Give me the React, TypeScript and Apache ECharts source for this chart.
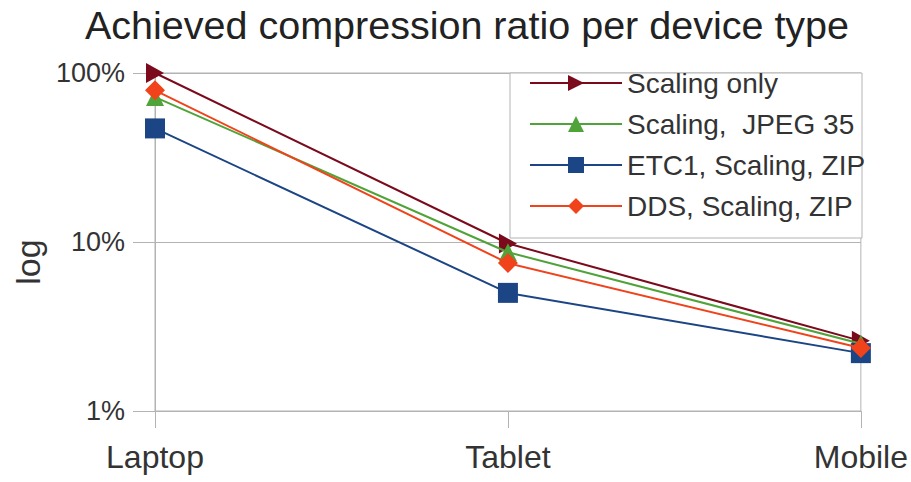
import React, { useEffect, useRef } from "react";
import * as echarts from "echarts";

const categories = ["Laptop", "Tablet", "Mobile"];
const seriesNames = ["Scaling only", "Scaling,  JPEG 35", "ETC1, Scaling, ZIP", "DDS, Scaling, ZIP"];
const scalingOnly = [100, 9.8, 2.6];
const jpeg35 = [72, 8.7, 2.5];
const etc1Zip = [47, 5.0, 2.2];
const ddsZip = [79, 7.5, 2.36];
const colors = ["#7a0a1c", "#4fa339", "#1b4584", "#f0431b"];
const symbols = ["triangle", "triangle", "rect", "diamond"];
const symbolSizes = [[20, 18], 18, 20, 20];
const rotates = [-90, 0, 0, 0];

export default function App() {
  const ref = useRef<HTMLDivElement>(null);
  useEffect(() => {
    if (!ref.current) return;
    const chart = echarts.init(ref.current, null, { renderer: "svg" });
    const data = [scalingOnly, jpeg35, etc1Zip, ddsZip];
    const font = "'Liberation Sans', Arial, sans-serif";
    chart.setOption({
      animation: false,
      textStyle: { fontFamily: font },
      title: {
        text: "Achieved compression ratio per device type",
        left: 80,
        top: 0,
        textStyle: { fontSize: 39.5, fontWeight: "normal", color: "#222", fontFamily: font },
      },
      grid: {
        left: 155,
        right: 50,
        top: 73,
        bottom: 71,
        show: true,
        borderColor: "#b3b3b3",
        borderWidth: 1,
      },
      graphic: [
        {
          type: "rect",
          z: 3,
          shape: { x: 510, y: 73, width: 352, height: 165 },
          style: { fill: "#fff", stroke: "#b3b3b3", lineWidth: 1 },
        },
        {
          type: "text",
          z: 3,
          x: 28,
          y: 262,
          rotation: Math.PI / 2,
          style: {
            text: "log",
            fontSize: 34,
            fill: "#333",
            fontFamily: font,
            align: "center",
            verticalAlign: "middle",
          },
        },
      ],
      legend: {
        orient: "vertical",
        left: 529,
        top: 69,
        padding: 0,
        itemWidth: 92,
        itemHeight: 20,
        itemGap: 13,
        itemTextGap: 13,
        z: 10,
        textStyle: { fontSize: 28, color: "#333", lineHeight: 28, fontFamily: font },
        data: seriesNames,
      },
      xAxis: {
        type: "category",
        data: categories,
        boundaryGap: false,
        axisLine: { show: true, lineStyle: { color: "#b3b3b3" } },
        axisTick: { show: true, length: 17, lineStyle: { color: "#b3b3b3" } },
        axisLabel: { fontSize: 32, color: "#333", margin: 30, fontFamily: font },
        splitLine: { show: false },
      },
      yAxis: {
        type: "log",
        logBase: 10,
        min: 1,
        max: 100,
        axisLine: { show: true, lineStyle: { color: "#b3b3b3" } },
        axisTick: { show: true, length: 22, lineStyle: { color: "#b3b3b3" } },
        axisLabel: { fontSize: 27, color: "#333", margin: 30, formatter: "{value}%", fontFamily: font },
        splitLine: { show: true, lineStyle: { color: "#b3b3b3" } },
        minorTick: { show: false },
      },
      series: seriesNames.map((name, i) => ({
        name,
        type: "line",
        data: data[i],
        symbol: symbols[i],
        symbolSize: symbolSizes[i],
        symbolRotate: rotates[i],
        showAllSymbol: true,
        lineStyle: { color: colors[i], width: 2 },
        itemStyle: { color: colors[i] },
        z: 2 + i,
      })),
    });
    return () => chart.dispose();
  }, []);
  return (
    <div
      ref={ref}
      style={{ position: "absolute", left: 0, top: 0, width: 911, height: 482 }}
    />
  );
}
